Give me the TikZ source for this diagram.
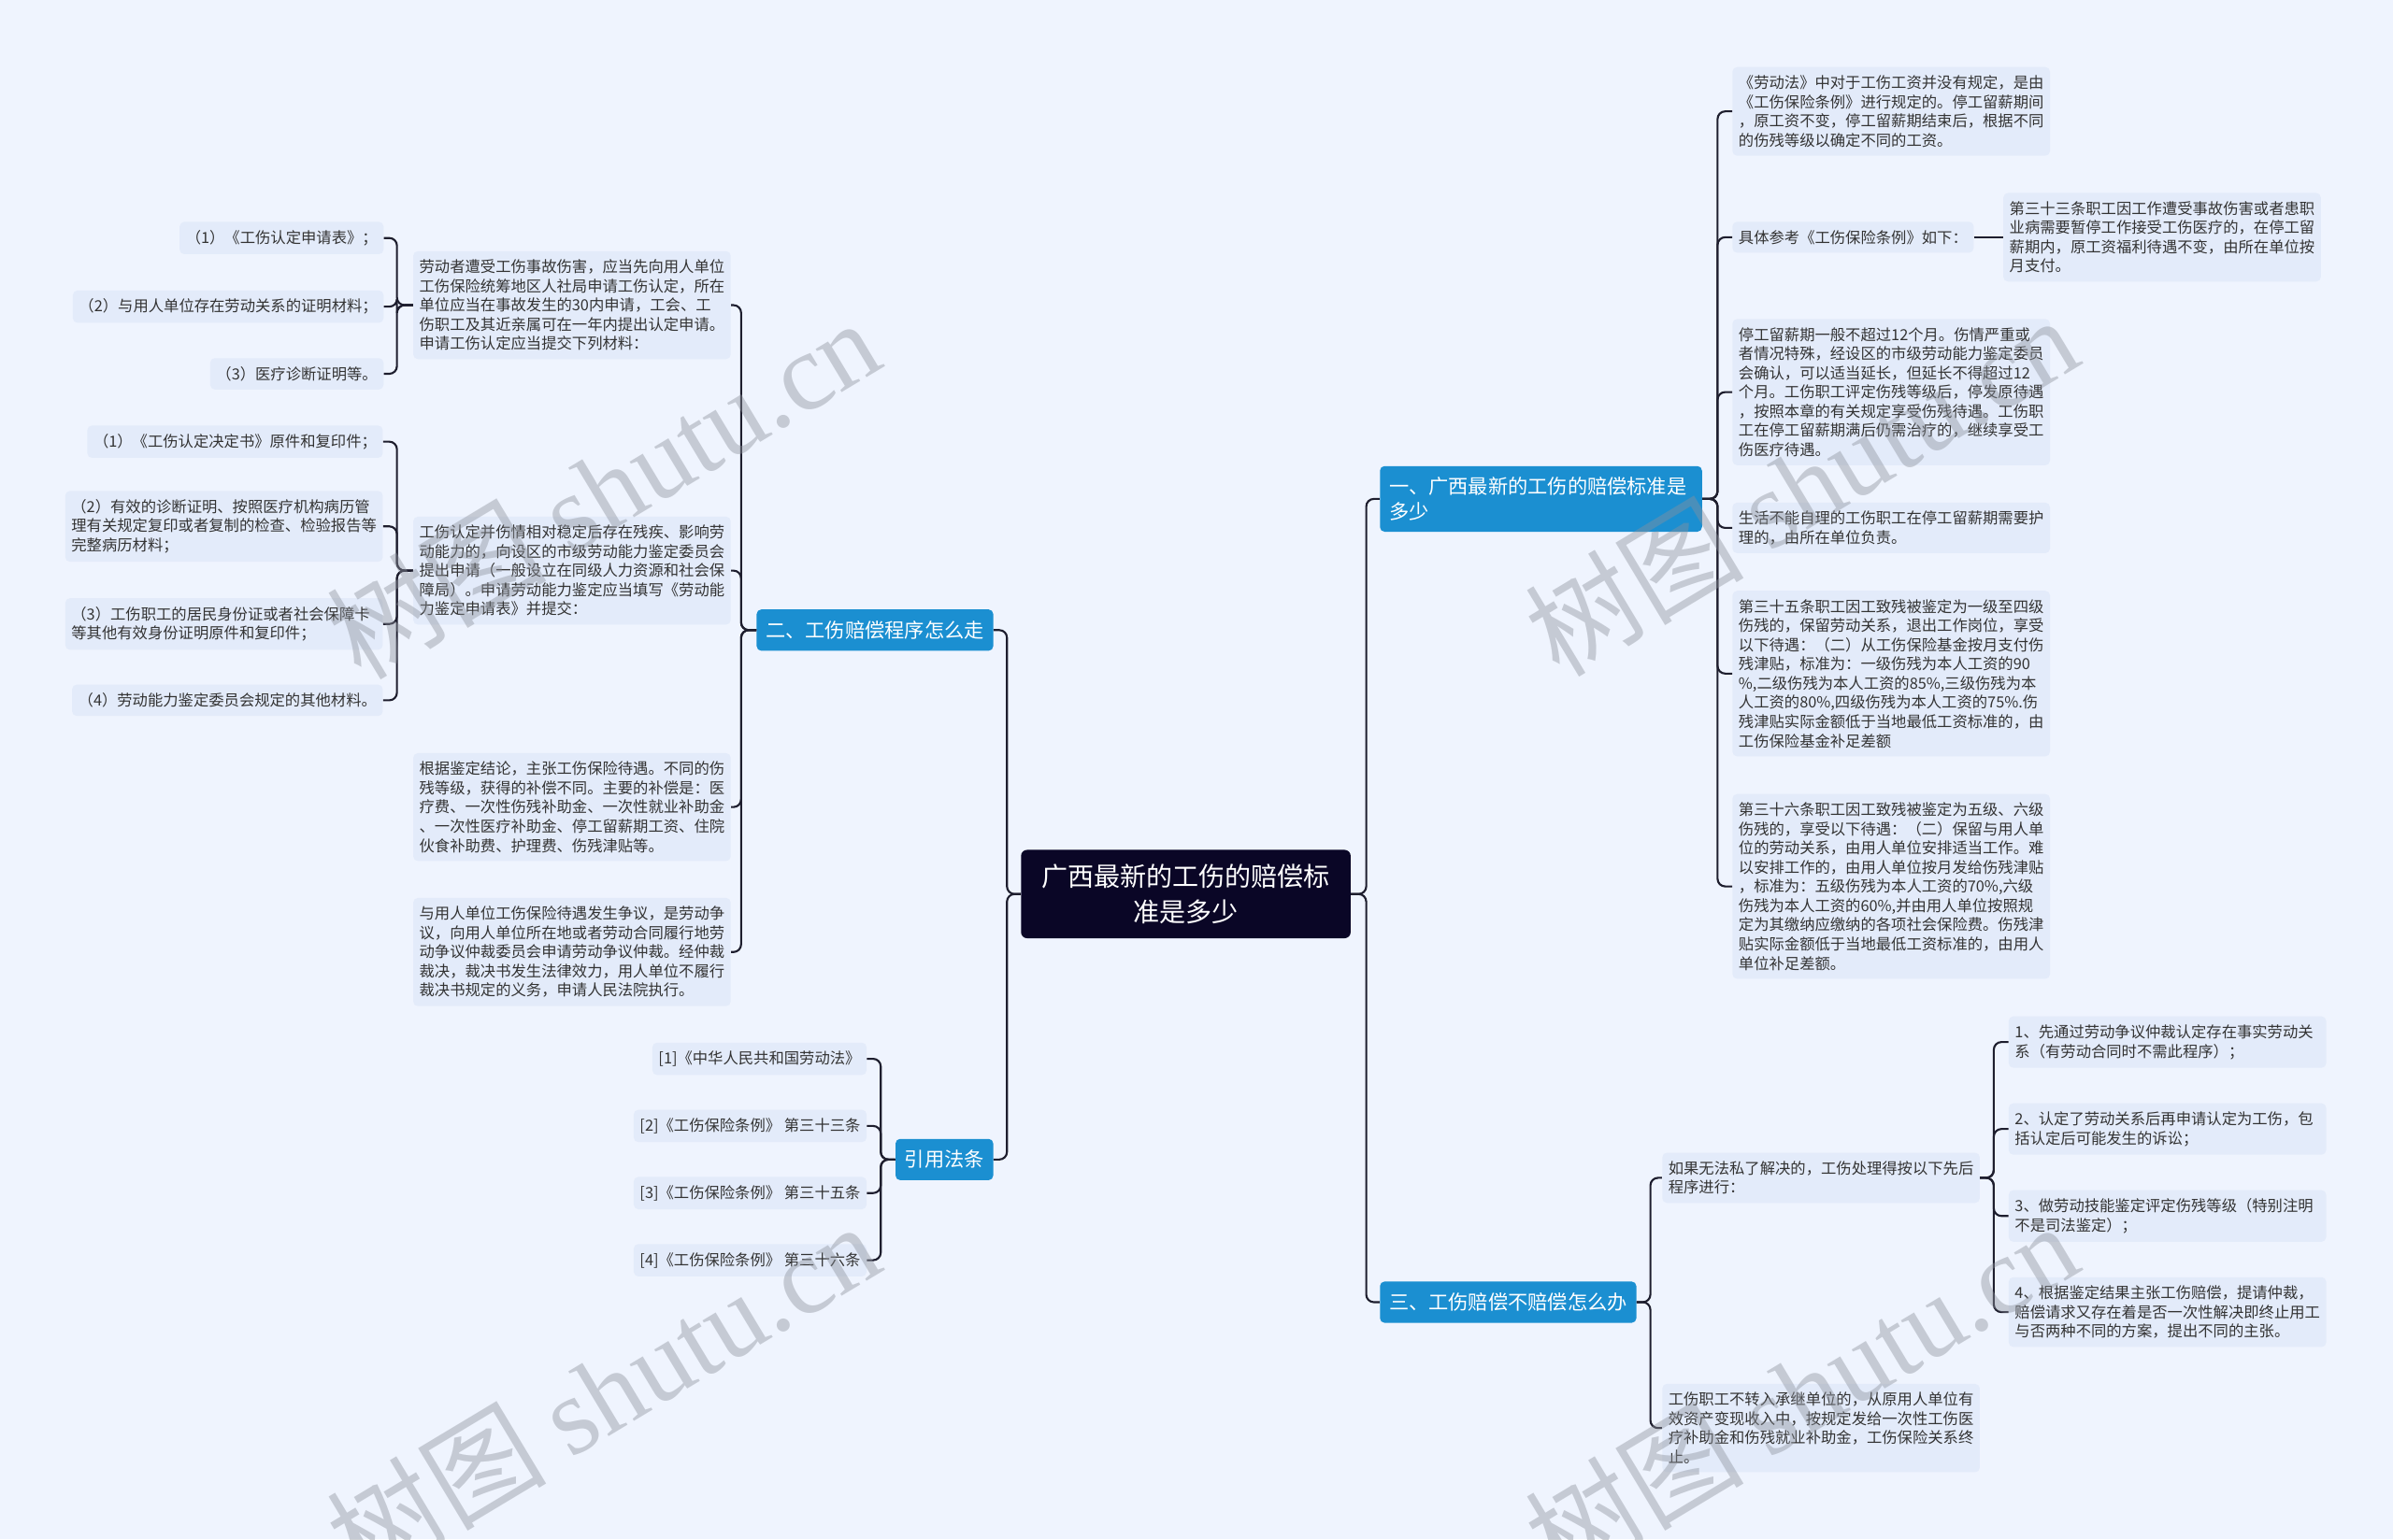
\documentclass[tikz,border=0pt]{standalone}
\usepackage{fontspec}
\setmainfont{Noto Sans CJK SC}
\newfontfamily\wmlat{Liberation Serif}
\definecolor{bgc}{RGB}{239,244,254}
\definecolor{leafc}{RGB}{227,235,250}
\definecolor{txtc}{RGB}{51,51,51}
\definecolor{bluec}{RGB}{27,143,209}
\definecolor{rootc}{RGB}{10,6,38}
\definecolor{linec}{RGB}{30,30,46}
\definecolor{wmc}{RGB}{140,145,155}
\tikzset{
  leaf/.style={fill=leafc, rounded corners=3pt, inner xsep=4pt, inner ysep=5.5pt,
    font=\fontsize{10}{12.6}\selectfont, text=txtc, align=left},
  leafw/.style={leaf, text width=200pt},
  branch/.style={fill=bluec, rounded corners=3pt, inner xsep=6pt, inner ysep=7.5pt,
    font=\fontsize{13}{16}\selectfont, text=white, align=left},
  rootbox/.style={fill=rootc, rounded corners=4pt, inner xsep=12pt, inner ysep=9.5pt,
    font=\fontsize{17.2}{23}\selectfont, text=white, align=center, text width=192pt},
  conn/.style={draw=linec, line width=1.3pt, rounded corners=5pt},
  wm/.style={text=wmc, opacity=0.42, font=\fontsize{72}{72}\selectfont, rotate=31}
}
\begin{document}
\begin{tikzpicture}[x=1pt,y=-1pt]
\useasboundingbox (0,0) rectangle (1568,1009);
\fill[bgc] (0,0) rectangle (1568,1009);

% root and branches
\node[rootbox] (C) at (777,586) {广西最新的工伤的赔偿标\\准是多少};
\node[branch, anchor=west, text width=199pt] (B1) at (904,327) {一、广西最新的工伤的赔偿标准是\\多少};
\node[branch, anchor=east] (B2) at (651,413) {二、工伤赔偿程序怎么走};
\node[branch, anchor=west] (B3) at (904,853.5) {三、工伤赔偿不赔偿怎么办};
\node[branch, anchor=east] (BL) at (651,760) {引用法条};

% branch 2 children
\node[leafw, anchor=east] (L1) at (479,200) {劳动者遭受工伤事故伤害，应当先向用人单位\\工伤保险统筹地区人社局申请工伤认定，所在\\单位应当在事故发生的30内申请，工会、工\\伤职工及其近亲属可在一年内提出认定申请。\\申请工伤认定应当提交下列材料：};
\node[leafw, anchor=east] (L2) at (479,374) {工伤认定并伤情相对稳定后存在残疾、影响劳\\动能力的，向设区的市级劳动能力鉴定委员会\\提出申请（一般设立在同级人力资源和社会保\\障局）。申请劳动能力鉴定应当填写《劳动能\\力鉴定申请表》并提交：};
\node[leafw, anchor=east] (L3) at (479,529) {根据鉴定结论，主张工伤保险待遇。不同的伤\\残等级，获得的补偿不同。主要的补偿是：医\\疗费、一次性伤残补助金、一次性就业补助金\\、一次性医疗补助金、停工留薪期工资、住院\\伙食补助费、护理费、伤残津贴等。};
\node[leafw, anchor=east] (L4) at (479,624) {与用人单位工伤保险待遇发生争议，是劳动争\\议，向用人单位所在地或者劳动合同履行地劳\\动争议仲裁委员会申请劳动争议仲裁。经仲裁\\裁决，裁决书发生法律效力，用人单位不履行\\裁决书规定的义务，申请人民法院执行。};

\node[leaf, anchor=east] (L1a) at (251.5,156) {（1）《工伤认定申请表》；};
\node[leaf, anchor=east] (L1b) at (251.5,201) {（2）与用人单位存在劳动关系的证明材料；};
\node[leaf, anchor=east] (L1c) at (251.5,245) {（3）医疗诊断证明等。};

\node[leaf, anchor=east] (L2a) at (251,289.5) {（1）《工伤认定决定书》原件和复印件；};
\node[leafw, anchor=east] (L2b) at (251,345) {（2）有效的诊断证明、按照医疗机构病历管\\理有关规定复印或者复制的检查、检验报告等\\完整病历材料；};
\node[leafw, anchor=east] (L2c) at (251,409) {（3）工伤职工的居民身份证或者社会保障卡\\等其他有效身份证明原件和复印件；};
\node[leaf, anchor=east] (L2d) at (251,459) {（4）劳动能力鉴定委员会规定的其他材料。};

% law references
\node[leaf, anchor=east] (LW1) at (568,694) {[1]《中华人民共和国劳动法》};
\node[leaf, anchor=east] (LW2) at (568,738) {[2]《工伤保险条例》 第三十三条};
\node[leaf, anchor=east] (LW3) at (568,782) {[3]《工伤保险条例》 第三十五条};
\node[leaf, anchor=east] (LW4) at (568,826) {[4]《工伤保险条例》 第三十六条};

% branch 1 children
\node[leafw, anchor=west] (R1) at (1135,73) {《劳动法》中对于工伤工资并没有规定，是由\\《工伤保险条例》进行规定的。停工留薪期间\\，原工资不变，停工留薪期结束后，根据不同\\的伤残等级以确定不同的工资。};
\node[leaf, anchor=west] (R2) at (1135,155.5) {具体参考《工伤保险条例》如下：};
\node[leafw, anchor=west] (R2a) at (1312.5,155.5) {第三十三条职工因工作遭受事故伤害或者患职\\业病需要暂停工作接受工伤医疗的，在停工留\\薪期内，原工资福利待遇不变，由所在单位按\\月支付。};
\node[leafw, anchor=west] (R3) at (1135,257) {停工留薪期一般不超过12个月。伤情严重或\\者情况特殊，经设区的市级劳动能力鉴定委员\\会确认，可以适当延长，但延长不得超过12\\个月。工伤职工评定伤残等级后，停发原待遇\\，按照本章的有关规定享受伤残待遇。工伤职\\工在停工留薪期满后仍需治疗的，继续享受工\\伤医疗待遇。};
\node[leafw, anchor=west] (R4) at (1135,346) {生活不能自理的工伤职工在停工留薪期需要护\\理的，由所在单位负责。};
\node[leafw, anchor=west] (R5) at (1135,441.5) {第三十五条职工因工致残被鉴定为一级至四级\\伤残的，保留劳动关系，退出工作岗位，享受\\以下待遇：（二）从工伤保险基金按月支付伤\\残津贴，标准为：一级伤残为本人工资的90\\\%,二级伤残为本人工资的85\%,三级伤残为本\\人工资的80\%,四级伤残为本人工资的75\%.伤\\残津贴实际金额低于当地最低工资标准的，由\\工伤保险基金补足差额};
\node[leafw, anchor=west] (R6) at (1135,581) {第三十六条职工因工致残被鉴定为五级、六级\\伤残的，享受以下待遇：（二）保留与用人单\\位的劳动关系，由用人单位安排适当工作。难\\以安排工作的，由用人单位按月发给伤残津贴\\，标准为：五级伤残为本人工资的70\%,六级\\伤残为本人工资的60\%,并由用人单位按照规\\定为其缴纳应缴纳的各项社会保险费。伤残津\\贴实际金额低于当地最低工资标准的，由用人\\单位补足差额。};

% branch 3 children
\node[leafw, anchor=west] (T1) at (1089,772) {如果无法私了解决的，工伤处理得按以下先后\\程序进行：};
\node[leafw, anchor=west] (T1a) at (1316,683) {1、先通过劳动争议仲裁认定存在事实劳动关\\系（有劳动合同时不需此程序）；};
\node[leafw, anchor=west] (T1b) at (1316,740) {2、认定了劳动关系后再申请认定为工伤，包\\括认定后可能发生的诉讼；};
\node[leafw, anchor=west] (T1c) at (1316,797) {3、做劳动技能鉴定评定伤残等级（特别注明\\不是司法鉴定）；};
\node[leafw, anchor=west] (T1d) at (1316,860) {4、根据鉴定结果主张工伤赔偿，提请仲裁，\\赔偿请求又存在着是否一次性解决即终止用工\\与否两种不同的方案，提出不同的主张。};
\node[leafw, anchor=west] (T2) at (1089,936) {工伤职工不转入承继单位的，从原用人单位有\\效资产变现收入中，按规定发给一次性工伤医\\疗补助金和伤残就业补助金，工伤保险关系终\\止。};

% connectors: root
\foreach \n in {B1,B3} \draw[conn] (C.east) -- ++(10,0) |- (\n.west);
\foreach \n in {B2,BL} \draw[conn] (C.west) -- ++(-9,0) |- (\n.east);
% branch 2
\foreach \n in {L1,L2,L3,L4} \draw[conn] (B2.west) -- ++(-10,0) |- (\n.east);
\foreach \n in {L1a,L1b,L1c} \draw[conn] (L1.west) -- ++(-10.5,0) |- (\n.east);
\foreach \n in {L2a,L2b,L2c,L2d} \draw[conn] (L2.west) -- ++(-10.5,0) |- (\n.east);
\foreach \n in {LW1,LW2,LW3,LW4} \draw[conn] (BL.west) -- ++(-9.5,0) |- (\n.east);
% branch 1
\foreach \n in {R1,R2,R3,R4,R5,R6} \draw[conn] (B1.east) -- ++(10,0) |- (\n.west);
\draw[conn] (R2.east) -- (R2a.west);
% branch 3
\foreach \n in {T1,T2} \draw[conn] (B3.east) -- ++(9,0) |- (\n.west);
\foreach \n in {T1a,T1b,T1c,T1d} \draw[conn] (T1.east) -- ++(9,0) |- (\n.west);

% watermarks
\node[wm] (W1) at (395,320) {树图 {\wmlat shutu.cn}};
\node[wm] (W2) at (395,912) {树图 {\wmlat shutu.cn}};
\node[wm] (W3) at (1180,318) {树图 {\wmlat shutu.cn}};
\node[wm] (W4) at (1180,912) {树图 {\wmlat shutu.cn}};
\end{tikzpicture}
\end{document}
